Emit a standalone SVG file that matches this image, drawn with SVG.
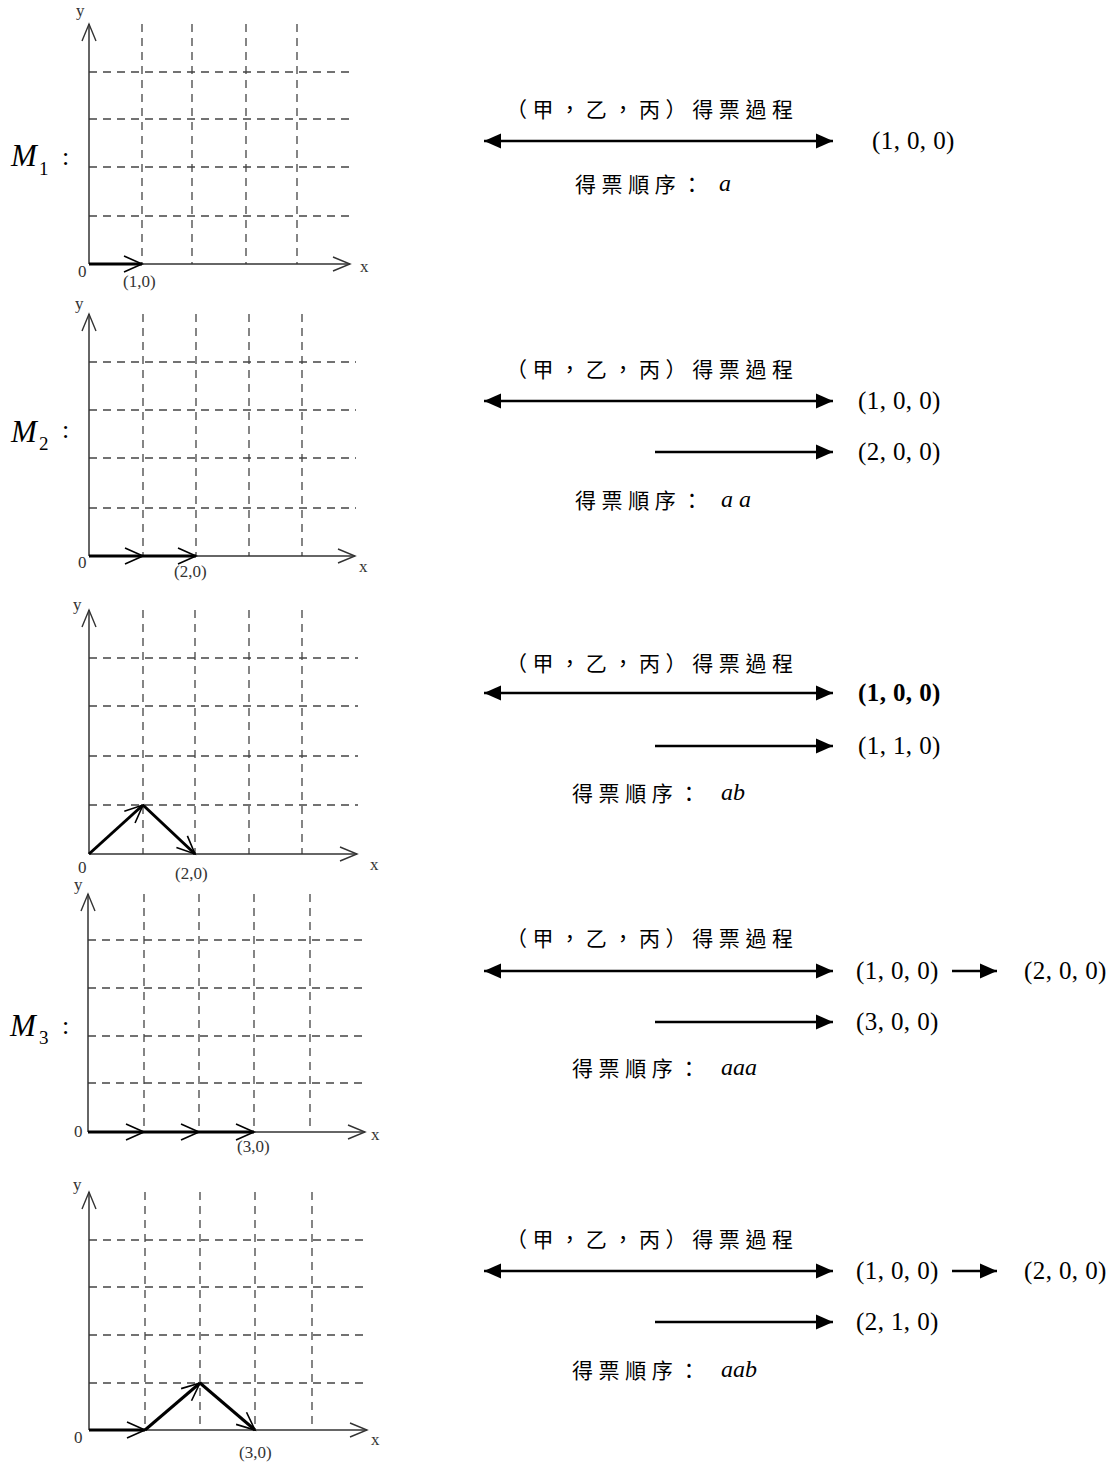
<svg xmlns="http://www.w3.org/2000/svg" width="1118" height="1463" viewBox="0 0 1118 1463">
<style>
.grid{stroke:#444;stroke-width:1.3;stroke-dasharray:8 6;fill:none}
.axis{stroke:#333;stroke-width:1.5;fill:none;marker-end:url(#axhead)}
.path{stroke:#000;stroke-width:3;fill:none;marker-end:url(#chev)}
.lbl{font-family:"Liberation Serif",serif;font-size:17px;fill:#333}
.m{font-family:"Liberation Serif",serif;font-style:italic;font-size:31px;fill:#000}
.sub{font-family:"Liberation Serif",serif;font-size:19px;fill:#000}
.col{font-family:"Liberation Serif",serif;font-size:26px;fill:#000}
.cjk{font-family:"Noto Sans CJK TC","Noto Sans CJK SC",sans-serif;font-size:21px;letter-spacing:5.6px;fill:#000}
.tup{font-family:"Liberation Serif",serif;font-size:25px;letter-spacing:0.4px;fill:#000}
.it{font-family:"Liberation Serif",serif;font-style:italic;font-size:24px;fill:#000}
.conn{stroke:#000;stroke-width:2.5;fill:none}
</style>
<defs>
<marker id="chev" markerUnits="userSpaceOnUse" viewBox="-20 -10 22 20" markerWidth="22" markerHeight="20" refX="0" refY="0" orient="auto" overflow="visible">
<path d="M-18,-8 L0,0 L-18,8" fill="none" stroke="#000" stroke-width="1.6"/>
</marker>
<marker id="axhead" markerUnits="userSpaceOnUse" viewBox="-20 -10 22 20" markerWidth="22" markerHeight="20" refX="0" refY="0" orient="auto" overflow="visible">
<path d="M-17,-7 L0,0 L-17,7" fill="none" stroke="#333" stroke-width="1.4"/>
</marker>
<marker id="tri" markerUnits="userSpaceOnUse" viewBox="-18 -8 19 16" markerWidth="19" markerHeight="16" refX="0" refY="0" orient="auto-start-reverse" overflow="visible">
<path d="M-17,-7.5 L0,0 L-17,7.5 Z" fill="#000"/>
</marker>
</defs>

<!-- Panel 1 -->
<g id="panel1">
<path class="grid" d="M142,24V264M192,24V264M246,24V264M297,24V264M89,216H355M89,167H355M89,119H355M89,72H355"/>
<line class="axis" x1="89" y1="264" x2="89" y2="24"/>
<line class="axis" x1="89" y1="264" x2="350" y2="264"/>
<path class="path" d="M89,264H142"/>
<text class="lbl" x="76" y="16">y</text>
<text class="lbl" x="360" y="272">x</text>
<text class="lbl" x="78" y="277">0</text>
<text class="lbl" x="123" y="287">(1,0)</text>
<text class="m" x="11" y="166">M</text><text class="sub" x="39" y="175">1</text>
<text class="col" x="62" y="165">:</text>
</g>

<!-- Panel 2 -->
<g id="panel2">
<path class="grid" d="M143,314V556M196,314V556M249,314V556M302,314V556M89,508H356M89,458H356M89,410H356M89,362H356"/>
<line class="axis" x1="89" y1="556" x2="89" y2="314"/>
<line class="axis" x1="89" y1="556" x2="355" y2="556"/>
<path class="path" d="M89,556H143"/>
<path class="path" d="M143,556H196"/>
<text class="lbl" x="75" y="309">y</text>
<text class="lbl" x="359" y="572">x</text>
<text class="lbl" x="78" y="568">0</text>
<text class="lbl" x="174" y="577">(2,0)</text>
<text class="m" x="11" y="442">M</text><text class="sub" x="39" y="450">2</text>
<text class="col" x="62" y="438">:</text>
</g>

<!-- Panel 3 -->
<g id="panel3">
<path class="grid" d="M143,610V854M195,610V854M249,610V854M302,610V854M89,805H358M89,756H358M89,706H358M89,658H358"/>
<line class="axis" x1="89" y1="854" x2="89" y2="610"/>
<line class="axis" x1="89" y1="854" x2="357" y2="854"/>
<path class="path" d="M89,854L143,805"/>
<path class="path" d="M143,805L195,854"/>
<text class="lbl" x="73" y="610">y</text>
<text class="lbl" x="370" y="870">x</text>
<text class="lbl" x="78" y="873">0</text>
<text class="lbl" x="175" y="879">(2,0)</text>
</g>

<!-- Panel 4 -->
<g id="panel4">
<path class="grid" d="M144,894V1132M199,894V1132M254,894V1132M310,894V1132M88,1083H368M88,1036H368M88,988H368M88,940H368"/>
<line class="axis" x1="88" y1="1132" x2="88" y2="894"/>
<line class="axis" x1="88" y1="1132" x2="365" y2="1132"/>
<path class="path" d="M88,1132H144"/>
<path class="path" d="M144,1132H199"/>
<path class="path" d="M199,1132H254"/>
<text class="lbl" x="74" y="890">y</text>
<text class="lbl" x="371" y="1140">x</text>
<text class="lbl" x="74" y="1137">0</text>
<text class="lbl" x="237" y="1152">(3,0)</text>
<text class="m" x="10" y="1036">M</text><text class="sub" x="39" y="1044">3</text>
<text class="col" x="62" y="1034">:</text>
</g>

<!-- Panel 5 -->
<g id="panel5">
<path class="grid" d="M145,1192V1430M200,1192V1430M255,1192V1430M312,1192V1430M89,1383H368M89,1335H368M89,1287H368M89,1240H368"/>
<line class="axis" x1="89" y1="1430" x2="89" y2="1192"/>
<line class="axis" x1="89" y1="1430" x2="367" y2="1430"/>
<path class="path" d="M89,1430H145"/>
<path class="path" d="M145,1430L200,1383"/>
<path class="path" d="M200,1383L255,1430"/>
<text class="lbl" x="73" y="1190">y</text>
<text class="lbl" x="371" y="1445">x</text>
<text class="lbl" x="74" y="1443">0</text>
<text class="lbl" x="239" y="1458">(3,0)</text>
</g>

<!-- Right side texts -->
<g id="text1">
<text class="cjk" x="506" y="117">（甲，乙，丙）得票過程</text>
<text class="tup" x="872" y="149">(1, 0, 0)</text>
<text class="cjk" x="575" y="192">得票順序：</text>
<text class="it" x="719" y="191">a</text>
</g>
<g id="text2">
<text class="cjk" x="506" y="377">（甲，乙，丙）得票過程</text>
<text class="tup" x="858" y="409">(1, 0, 0)</text>
<text class="tup" x="858" y="460">(2, 0, 0)</text>
<text class="cjk" x="575" y="508">得票順序：</text>
<text class="it" x="721" y="507">a a</text>
</g>
<g id="text3">
<text class="cjk" x="506" y="671">（甲，乙，丙）得票過程</text>
<text class="tup" x="858" y="701" font-weight="bold">(1, 0, 0)</text>
<text class="tup" x="858" y="754">(1, 1, 0)</text>
<text class="cjk" x="572" y="801">得票順序：</text>
<text class="it" x="721" y="800">ab</text>
</g>
<g id="text4">
<text class="cjk" x="506" y="946">（甲，乙，丙）得票過程</text>
<text class="tup" x="856" y="979">(1, 0, 0)</text>
<text class="tup" x="1024" y="979">(2, 0, 0)</text>
<text class="tup" x="856" y="1030">(3, 0, 0)</text>
<text class="cjk" x="572" y="1076">得票順序：</text>
<text class="it" x="721" y="1075">aaa</text>
</g>
<g id="text5">
<text class="cjk" x="506" y="1247">（甲，乙，丙）得票過程</text>
<text class="tup" x="856" y="1279">(1, 0, 0)</text>
<text class="tup" x="1024" y="1279">(2, 0, 0)</text>
<text class="tup" x="856" y="1330">(2, 1, 0)</text>
<text class="cjk" x="572" y="1378">得票順序：</text>
<text class="it" x="721" y="1377">aab</text>
</g>

<!-- Connectors -->
<g id="connectors">
<line class="conn" x1="484" y1="141" x2="833" y2="141" marker-start="url(#tri)" marker-end="url(#tri)"/>
<line class="conn" x1="484" y1="401" x2="833" y2="401" marker-start="url(#tri)" marker-end="url(#tri)"/>
<line class="conn" x1="655" y1="452" x2="833" y2="452" marker-end="url(#tri)"/>
<line class="conn" x1="484" y1="693" x2="833" y2="693" marker-start="url(#tri)" marker-end="url(#tri)"/>
<line class="conn" x1="655" y1="746" x2="833" y2="746" marker-end="url(#tri)"/>
<line class="conn" x1="484" y1="971" x2="833" y2="971" marker-start="url(#tri)" marker-end="url(#tri)"/>
<line class="conn" x1="952" y1="971" x2="997" y2="971" marker-end="url(#tri)"/>
<line class="conn" x1="655" y1="1022" x2="833" y2="1022" marker-end="url(#tri)"/>
<line class="conn" x1="484" y1="1271" x2="833" y2="1271" marker-start="url(#tri)" marker-end="url(#tri)"/>
<line class="conn" x1="952" y1="1271" x2="997" y2="1271" marker-end="url(#tri)"/>
<line class="conn" x1="655" y1="1322" x2="833" y2="1322" marker-end="url(#tri)"/>
</g>
</svg>
